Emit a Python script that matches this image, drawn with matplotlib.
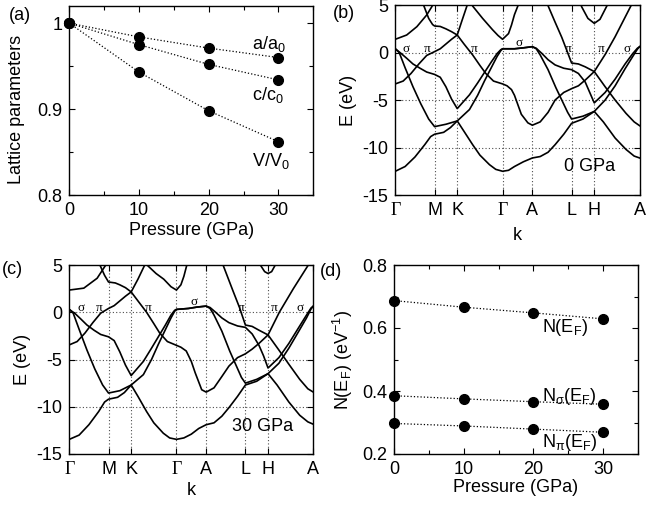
import numpy as np
import matplotlib
matplotlib.use('Agg')
import matplotlib.pyplot as plt
from matplotlib.ticker import MultipleLocator

plt.rcParams['font.family'] = ['Liberation Sans', 'DejaVu Sans']
plt.rcParams['font.size'] = 13
plt.rcParams['mathtext.default'] = 'regular'
plt.rcParams['axes.linewidth'] = 1.0
plt.rcParams['axes.unicode_minus'] = False

# ---------------- data: panels (a) and (d) ----------------
pressure = [0, 10, 20, 30]
a_ratio = [1.0, 0.984, 0.971, 0.960]
c_ratio = [1.0, 0.975, 0.952, 0.934]
V_ratio = [1.0, 0.943, 0.898, 0.862]
N_tot = [0.687, 0.666, 0.648, 0.629]
N_sigma = [0.385, 0.375, 0.366, 0.358]
N_pi = [0.297, 0.289, 0.279, 0.269]

# ---------------- data: band structures ----------------
kpath_labels = ['Γ', 'M', 'K', 'Γ', 'A', 'L', 'H', 'A']
kpath_ticks = [0.0, 0.5774, 0.9107, 1.5773, 2.0151, 2.5925, 2.9258, 3.5924]
# each band: (t, E) with t = segment index + fraction along the segment, E in eV

# 0 GPa
s_0 = [(0, -12.5), (.25, -12.0), (.5, -11.0), (.75, -9.7), (.9, -8.85), (1, -8.6), (1.4, -8.4), (1.7, -7.9),
       (2, -7.2), (2.15, -8.3), (2.34, -9.7), (2.5, -10.8), (2.71, -11.8), (2.85, -12.3), (3, -12.5),
       (3.2, -12.4), (3.4, -12.0), (3.7, -11.5), (4, -11.1), (4.2, -10.95), (4.4, -10.5), (4.58, -9.7),
       (4.8, -8.6), (5, -7.45), (5.5, -7.0), (6, -6.2), (6.2, -7.3), (6.46, -9.0), (6.7, -10.2),
       (6.88, -10.9), (7, -11.1)]
sig1_0 = [(0, 0.4), (.15, -0.1), (.29, -0.6), (.45, -1.2), (.63, -1.65), (.8, -2.05), (1, -2.3), (1.25, -2.6),
          (1.5, -3.6), (1.75, -4.9), (2, -5.9), (2.27, -4.45), (2.45, -3.2), (2.6, -2.1), (2.75, -1.0),
          (2.88, -0.1), (2.96, 0.3), (3, 0.4), (3.4, 0.4), (3.7, 0.5), (4, 0.62), (4.1, 0.45), (4.24, -0.08),
          (4.4, -0.75), (4.58, -1.3), (4.8, -1.65), (5, -1.8), (5.3, -2.2), (5.6, -3.1), (5.8, -4.2),
          (6, -5.3), (6.24, -4.2), (6.46, -2.8), (6.68, -1.2), (6.85, -0.1), (6.95, 0.45), (7, 0.62)]
sig2_0 = [(0, 0.4), (.1, 0.0), (.25, -1.6), (.45, -3.6), (.65, -5.4), (.85, -7.0), (1, -7.8), (1.5, -7.55),
          (2, -7.2), (2.27, -6.0), (2.45, -4.5), (2.6, -3.0), (2.75, -1.6), (2.88, -0.4), (2.96, 0.2),
          (3, 0.4), (3.4, 0.4), (3.7, 0.5), (4, 0.62), (4.1, 0.4), (4.2, -0.25), (4.4, -1.8), (4.6, -3.7),
          (4.75, -5.0), (4.9, -6.3), (5, -7.0), (5.5, -6.7), (6, -6.2), (6.24, -5.0), (6.46, -3.5),
          (6.68, -1.7), (6.85, -0.4), (6.95, 0.35), (7, 0.62)]
pi_0 = [(0, -3.3), (.2, -3.0), (.4, -2.2), (.6, -1.2), (.8, -0.3), (1, 0.1), (1.25, 0.4), (1.5, 0.9),
        (1.75, 1.4), (2, 1.85), (2.15, 0.9), (2.34, -0.25), (2.5, -1.35), (2.63, -2.2), (2.8, -3.0),
        (3, -3.3), (3.15, -3.5), (3.3, -3.9), (3.4, -4.5), (3.63, -6.5), (3.85, -7.4), (4, -7.65),
        (4.2, -7.3), (4.4, -6.3), (4.58, -5.0), (4.8, -4.2), (5, -3.8), (5.3, -3.5), (5.6, -2.9),
        (6, -2.0), (6.24, -3.6), (6.46, -5.0), (6.7, -6.4), (6.88, -7.3), (7, -7.7)]
pistar_0a = [(.55, 6.5), (.72, 5.0), (.85, 3.6), (.95, 2.95), (1, 2.8), (1.25, 2.75), (1.5, 2.5),
             (1.75, 2.2), (2, 1.85), (2.1, 3.3), (2.22, 5.0), (2.3, 6.0)]
pistar_0b = [(4.3, 6.0), (4.41, 4.84), (4.58, 3.2), (4.75, 1.6), (4.88, 0.2), (5, -1.1), (5.3, -1.2),
             (5.6, -1.5), (6, -2.0), (6.24, -0.2), (6.46, 1.67), (6.8, 4.84), (6.9, 5.8)]
c1_0a = [(0, 1.4), (.29, 1.85), (.55, 2.73), (.8, 3.96), (.93, 4.83), (1, 5.5)]
c1_0b = [(2.25, 6.2), (2.34, 4.9), (2.56, 3.6), (2.78, 2.4), (2.9, 1.8), (3, 1.4), (3.2, 2.0),
         (3.3, 2.9), (3.4, 4.0), (3.55, 5.2), (3.65, 6.0)]
U_0 = [(5.3, 6.0), (5.44, 4.84), (5.72, 3.6), (6, 3.08), (6.126, 3.5), (6.27, 4.84), (6.39, 6.0)]

# 30 GPa
s_30 = [(0, -13.45), (.25, -13.0), (.5, -11.9), (.75, -10.5), (.9, -9.5), (1, -9.2), (1.4, -9.0), (1.7, -8.5),
        (2, -7.7), (2.15, -8.9), (2.34, -10.5), (2.5, -11.7), (2.71, -12.8), (2.85, -13.3), (3, -13.45),
        (3.25, -13.3), (3.5, -12.9), (3.75, -12.3), (4, -11.9), (4.2, -11.7), (4.4, -11.0), (4.58, -10.1),
        (4.8, -8.9), (5, -7.7), (5.5, -7.3), (6, -6.5), (6.2, -7.7), (6.46, -9.5), (6.7, -10.9),
        (6.88, -11.6), (7, -11.85)]
sig1_30 = [(0, 0.3), (.15, -0.15), (.29, -0.7), (.45, -1.35), (.63, -1.9), (.8, -2.35), (1, -2.6), (1.25, -3.0),
           (1.5, -4.2), (1.75, -5.6), (2, -6.7), (2.27, -5.2), (2.45, -3.8), (2.6, -2.6), (2.75, -1.4),
           (2.88, -0.3), (2.96, 0.2), (3, 0.3), (3.4, 0.4), (3.7, 0.55), (4, 0.65), (4.1, 0.5), (4.24, 0.0),
           (4.4, -0.6), (4.58, -1.1), (4.8, -1.45), (5, -1.6), (5.3, -2.3), (5.6, -3.5), (5.8, -4.6),
           (6, -5.9), (6.24, -4.8), (6.46, -3.3), (6.68, -1.6), (6.85, -0.3), (6.95, 0.45), (7, 0.65)]
sig2_30 = [(0, 0.3), (.1, -0.1), (.25, -1.8), (.45, -4.0), (.65, -6.0), (.85, -7.7), (1, -8.55), (1.5, -8.3),
           (2, -7.7), (2.27, -6.6), (2.45, -5.0), (2.6, -3.4), (2.75, -1.9), (2.88, -0.6), (2.96, 0.1),
           (3, 0.3), (3.4, 0.4), (3.7, 0.55), (4, 0.65), (4.1, 0.4), (4.2, -0.3), (4.4, -2.0), (4.6, -4.1),
           (4.75, -5.5), (4.9, -6.9), (5, -7.5), (5.5, -7.1), (6, -6.5), (6.24, -5.4), (6.46, -3.8),
           (6.68, -2.0), (6.85, -0.6), (6.95, 0.35), (7, 0.65)]
pi_30 = [(0, -3.45), (.2, -3.1), (.4, -2.2), (.6, -1.1), (.8, -0.1), (1, 0.4), (1.25, 0.7), (1.5, 1.2),
         (1.75, 1.7), (2, 2.15), (2.15, 1.2), (2.34, 0.0), (2.5, -1.2), (2.63, -2.2), (2.8, -3.1),
         (3, -3.5), (3.15, -3.7), (3.33, -4.1), (3.5, -5.2), (3.63, -6.4), (3.85, -8.2), (4, -8.45),
         (4.2, -8.0), (4.4, -6.8), (4.58, -5.7), (4.8, -4.8), (5, -4.4), (5.3, -3.9), (5.6, -3.3),
         (6, -2.4), (6.24, -4.0), (6.46, -5.5), (6.7, -7.1), (6.88, -8.1), (7, -8.45)]
pistar_30a = [(.6, 6.5), (.78, 5.0), (.9, 3.9), (1, 3.2), (1.3, 3.1), (1.5, 2.9), (1.75, 2.6), (2, 2.15),
              (2.15, 3.5), (2.3, 5.0), (2.4, 6.2)]
pistar_30b = [(4.3, 6.3), (4.43, 5.0), (4.68, 2.3), (4.85, 0.5), (5, -1.35), (5.3, -1.5), (5.6, -1.9),
              (6, -2.4), (6.25, 0.0), (6.56, 2.5), (6.89, 5.0), (7, 5.9)]
c1_30a = [(0, 2.35), (.37, 2.55), (.71, 3.6), (.93, 5.0), (1, 5.6)]
c1_30b = [(2.25, 6.2), (2.35, 5.0), (2.55, 4.1), (2.72, 3.5), (2.88, 2.7), (3, 2.35), (3.15, 2.9),
          (3.25, 3.8), (3.35, 5.0), (3.45, 6.0)]
U_30 = [(5.5, 5.8), (5.66, 5.0), (5.85, 4.3), (6, 4.1), (6.08, 4.3), (6.16, 5.0), (6.25, 5.8)]

bands_0 = [s_0, sig1_0, sig2_0, pi_0, pistar_0a, pistar_0b, c1_0a, c1_0b, U_0]
bands_30 = [s_30, sig1_30, sig2_30, pi_30, pistar_30a, pistar_30b, c1_30a, c1_30b, U_30]

orb_labels = ['σ', 'π', 'π', 'σ', 'π', 'π', 'σ']
orb_k_0 = [0.157, 0.47, 1.157, 1.824, 2.544, 3.02, 3.41]
orb_E_0 = [0.4, 0.4, 0.4, 1.0, 0.4, 0.4, 0.4]
orb_k_30 = [0.172, 0.442, 1.163, 1.84, 2.524, 3.014, 3.397]
orb_E_30 = [0.5, 0.5, 0.5, 1.1, 0.5, 0.5, 0.5]

# ---------------- figure ----------------
W, H = 646, 508
fig = plt.figure(figsize=(W / 100, H / 100), dpi=100)


def ax_px(l, t, r, b):
    return fig.add_axes([l / W, 1 - b / H, (r - l) / W, (b - t) / H])


axA = ax_px(69.3, 6, 313.3, 195)
axB = ax_px(395.3, 5.1, 639.6, 195)
axC = ax_px(69.3, 265, 313.3, 454)
axD = ax_px(394, 265, 638, 454)


def style_ticks(ax):
    ax.tick_params(which='both', direction='in', top=True, right=True, width=0.8)
    ax.tick_params(which='major', length=4.5, pad=5)
    ax.tick_params(which='minor', length=3)


# panel (a)
for arr in (a_ratio, c_ratio, V_ratio):
    axA.plot(pressure, arr, ':', color='k', lw=0.9)
    axA.plot(pressure, arr, 'o', color='k', ms=7, zorder=3, clip_on=False)
axA.set_xlim(0, 35)
axA.set_ylim(0.8, 1.02)
axA.set_xticks([0, 10, 20, 30])
axA.xaxis.set_minor_locator(MultipleLocator(5))
axA.set_yticks([0.8, 0.9, 1.0])
axA.set_yticklabels(['0.8', '0.9', '1'])
axA.yaxis.set_minor_locator(MultipleLocator(0.05))
style_ticks(axA)
axA.set_xlabel('Pressure (GPa)', labelpad=2)
axA.set_ylabel('Lattice parameters')
axA.yaxis.set_label_coords(-0.18, 0.455)
axA.text(26.2, 0.976, 'a/a$_0$', ha='left', va='center')
axA.text(26.2, 0.916, 'c/c$_0$', ha='left', va='center')
axA.text(26.2, 0.839, 'V/V$_0$', ha='left', va='center')

# panel (d)
for arr in (N_tot, N_sigma, N_pi):
    axD.plot(pressure, arr, ':', color='k', lw=0.9)
    axD.plot(pressure, arr, 'o', color='k', ms=7, zorder=3, clip_on=False)
axD.set_xlim(0, 35)
axD.set_ylim(0.2, 0.8)
axD.set_xticks([0, 10, 20, 30])
axD.xaxis.set_minor_locator(MultipleLocator(5))
axD.set_yticks([0.2, 0.4, 0.6, 0.8])
axD.yaxis.set_minor_locator(MultipleLocator(0.1))
style_ticks(axD)
axD.set_xlabel('Pressure (GPa)', labelpad=1)
axD.set_ylabel('N(E$_F$) (eV$^{-1}$)', labelpad=5)
axD.text(21.2, 0.600, 'N(E$_F$)', ha='left', va='center')
axD.text(21.2, 0.381, 'N$_σ$(E$_F$)', ha='left', va='center')
axD.text(21.2, 0.238, 'N$_π$(E$_F$)', ha='left', va='center')

# band panels
tnodes = np.arange(len(kpath_ticks))


def draw_bands(ax, bands, olab, ok, oE, ptext, pk, pE, kpad):
    for kk in kpath_ticks[1:-1]:
        ax.axvline(kk, ls=(0, (1, 2)), color='0.3', lw=0.8, zorder=0)
    for ee in (-10, -5, 0):
        ax.axhline(ee, ls=(0, (1, 2)), color='0.3', lw=0.8, zorder=0)
    for band in bands:
        t = np.array([p[0] for p in band])
        e = np.array([p[1] for p in band])
        k = np.interp(t, tnodes, kpath_ticks)
        ax.plot(k, e, color='k', lw=1.2, solid_joinstyle='round', zorder=2)
    for lab, kx, ey in zip(olab, ok, oE):
        ax.text(kx, ey, lab, ha='center', va='center', fontsize=9.5,
                family=['Liberation Serif', 'DejaVu Serif'], zorder=3)
    ax.text(pk, pE, ptext, ha='center', va='center')
    ax.set_xlim(kpath_ticks[0], kpath_ticks[-1])
    ax.set_ylim(-15, 5)
    ax.set_xticks(kpath_ticks)
    ax.set_xticklabels(kpath_labels)
    style_ticks(ax)
    for lbl in ax.get_xticklabels():
        if lbl.get_text() == 'Γ':
            lbl.set_fontfamily(['Liberation Serif', 'DejaVu Serif'])
    ax.set_yticks([-15, -10, -5, 0, 5])
    ax.set_xlabel('k', labelpad=kpad)
    ax.set_ylabel('E (eV)', labelpad=4)


draw_bands(axB, bands_0, orb_labels, orb_k_0, orb_E_0, '0 GPa', 2.863, -12.0, 6)
draw_bands(axC, bands_30, orb_labels, orb_k_30, orb_E_30, '30 GPa', 2.852, -12.1, 3)

fig.text(20 / W, 1 - 15 / H, '(a)', ha='center', va='center')
fig.text(344 / W, 1 - 13 / H, '(b)', ha='center', va='center')
fig.text(12 / W, 1 - 270 / H, '(c)', ha='center', va='center')
fig.text(331 / W, 1 - 272 / H, '(d)', ha='center', va='center')

fig.savefig('out.png', dpi=100)
